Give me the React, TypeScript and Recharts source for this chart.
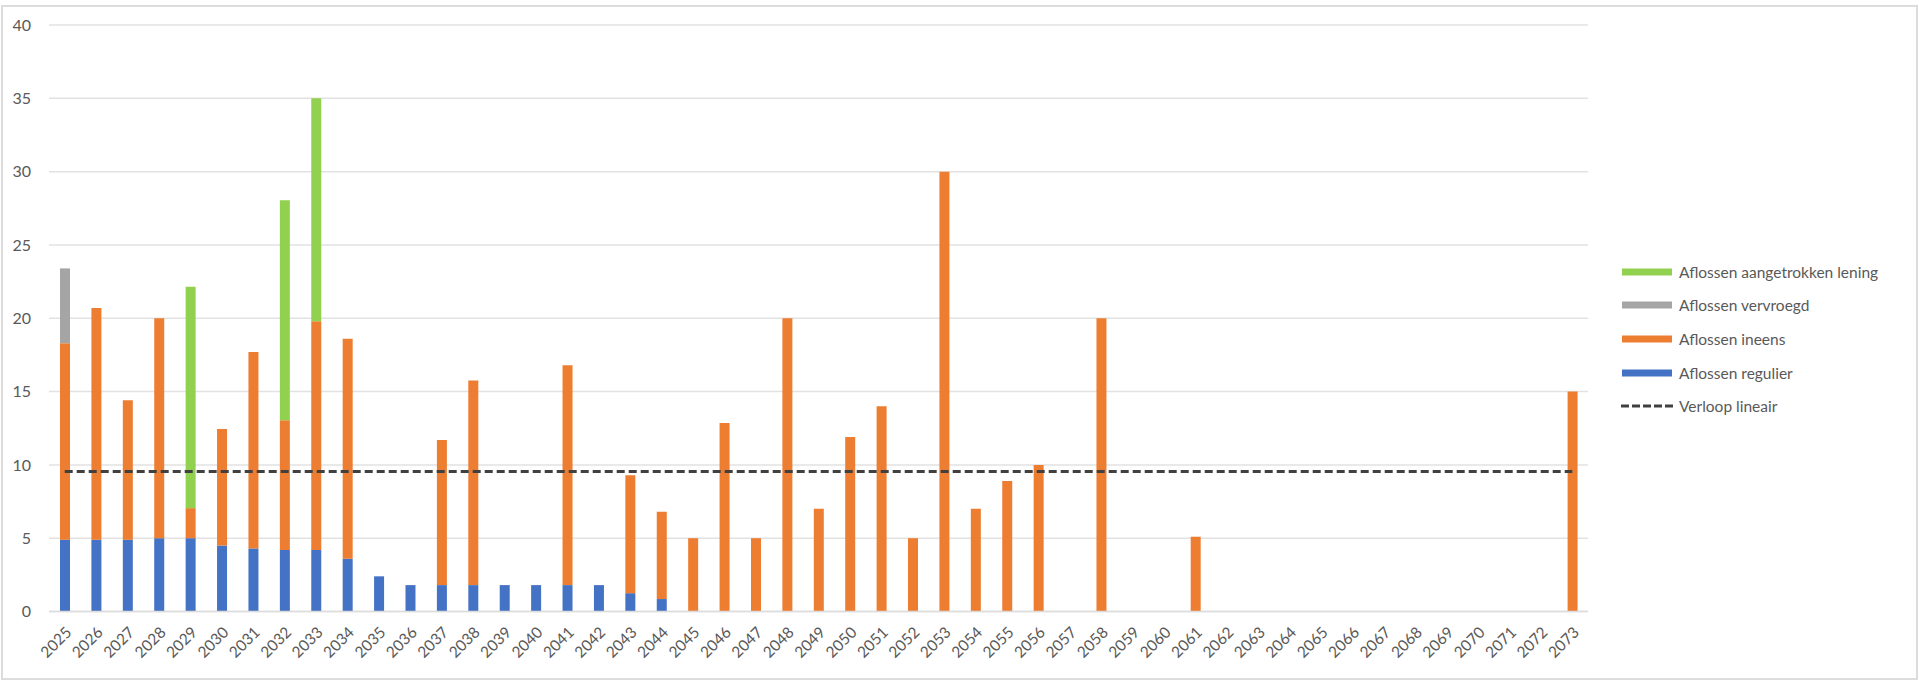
import { ComposedChart, Bar, Line, XAxis, YAxis, CartesianGrid } from 'recharts'

const YEARS = [
  2025, 2026, 2027, 2028, 2029, 2030, 2031, 2032, 2033, 2034,
  2035, 2036, 2037, 2038, 2039, 2040, 2041, 2042, 2043, 2044,
  2045, 2046, 2047, 2048, 2049, 2050, 2051, 2052, 2053, 2054,
  2055, 2056, 2057, 2058, 2059, 2060, 2061, 2062, 2063, 2064,
  2065, 2066, 2067, 2068, 2069, 2070, 2071, 2072, 2073,
]

const REGULIER = [
  4.9, 4.9, 4.9, 5.0, 5.0, 4.5, 4.3, 4.2, 4.2, 3.6,
  2.4, 1.8, 1.8, 1.8, 1.8, 1.8, 1.8, 1.8, 1.25, 0.85,
  0, 0, 0, 0, 0, 0, 0, 0, 0, 0,
  0, 0, 0, 0, 0, 0, 0, 0, 0, 0,
  0, 0, 0, 0, 0, 0, 0, 0, 0,
]

const INEENS = [
  13.4, 15.8, 9.5, 15.0, 2.05, 7.95, 13.4, 8.85, 15.6, 15.0,
  0, 0, 9.9, 13.95, 0, 0, 15.0, 0, 8.05, 5.95,
  5, 12.85, 5, 20, 7, 11.9, 14, 5, 30, 7,
  8.9, 10, 0, 20, 0, 0, 5.1, 0, 0, 0,
  0, 0, 0, 0, 0, 0, 0, 0, 15,
]

const VERVROEGD = [5.1]

const AANGETROKKEN_YEARS = [2029, 2032, 2033]
const AANGETROKKEN = [15.1, 15.0, 15.2]

const LINEAIR = 9.55

const Y_TICKS = [0, 5, 10, 15, 20, 25, 30, 35, 40]

const BLUE = '#4472C4'
const ORANGE = '#ED7D31'
const GREY = '#A5A5A5'
const GREEN = '#92D050'
const TEXT = '#595959'
const FONT = 'Lato, "Open Sans", sans-serif'

const data = YEARS.map((year, i) => {
  const a = AANGETROKKEN_YEARS.indexOf(year)
  return {
    year: String(year),
    regulier: REGULIER[i],
    ineens: INEENS[i],
    vervroegd: VERVROEGD[i] ?? 0,
    aangetrokken: a >= 0 ? AANGETROKKEN[a] : 0,
    lineair: LINEAIR,
  }
})

const LEGEND = [
  { label: 'Aflossen aangetrokken lening', color: GREEN },
  { label: 'Aflossen vervroegd', color: GREY },
  { label: 'Aflossen ineens', color: ORANGE },
  { label: 'Aflossen regulier', color: BLUE },
  { label: 'Verloop lineair', color: '#404040', dashed: true },
]

function YearTick(props: any) {
  const { x, y, payload } = props
  const tx = x + 4
  return (
    <text
      x={tx}
      y={y}
      transform={`rotate(-45 ${tx} ${y})`}
      textAnchor="end"
      dy="0.35em"
      fill={TEXT}
      fontSize={15.5}
      fontFamily={FONT}
    >
      {payload.value}
    </text>
  )
}

export default function App() {
  return (
    <div style={{ position: 'absolute', left: 0, top: 0, width: 1919, height: 682, background: '#fff', fontFamily: FONT }}>
      <div style={{ position: 'absolute', left: 1, top: 5, width: 1913, height: 671, border: '2px solid #dcdcdc' }} />
      <ComposedChart
        width={1919}
        height={682}
        data={data}
        margin={{ top: 25, right: 331, left: 0, bottom: 0 }}
        barSize={10}
      >
        <CartesianGrid vertical={false} stroke="#e2e2e2" strokeWidth={1.5} />
        <XAxis
          dataKey="year"
          interval={0}
          height={70.5}
          tickSize={0}
          tickMargin={18}
          axisLine={{ stroke: '#dcdcdc', strokeWidth: 1.5 }}
          tick={<YearTick />}
        />
        <YAxis
          domain={[0, 40]}
          ticks={Y_TICKS}
          width={49}
          tickSize={0}
          tickMargin={18}
          axisLine={false}
          tick={{ fill: TEXT, fontSize: 16, fontFamily: FONT }}
        />
        <Bar dataKey="regulier" stackId="a" fill={BLUE} isAnimationActive={false} />
        <Bar dataKey="ineens" stackId="a" fill={ORANGE} isAnimationActive={false} />
        <Bar dataKey="vervroegd" stackId="a" fill={GREY} isAnimationActive={false} />
        <Bar dataKey="aangetrokken" stackId="a" fill={GREEN} isAnimationActive={false} />
        <Line
          dataKey="lineair"
          stroke="#404040"
          strokeWidth={3}
          strokeDasharray="8 4"
          dot={false}
          activeDot={false}
          isAnimationActive={false}
        />
      </ComposedChart>
      <div style={{ position: 'absolute', left: 1620, top: 255 }}>
        {LEGEND.map(item => (
          <div key={item.label} style={{ display: 'flex', alignItems: 'center', height: 33.6 }}>
            <svg width={56} height={10} style={{ marginRight: 3 }}>
              {item.dashed ? (
                <line x1={1} y1={5} x2={54} y2={5} stroke={item.color} strokeWidth={3} strokeDasharray="8 3" />
              ) : (
                <rect x={2} y={1.5} width={50} height={7} fill={item.color} />
              )}
            </svg>
            <span style={{ color: TEXT, fontSize: 15.5, whiteSpace: 'nowrap' }}>{item.label}</span>
          </div>
        ))}
      </div>
    </div>
  )
}
